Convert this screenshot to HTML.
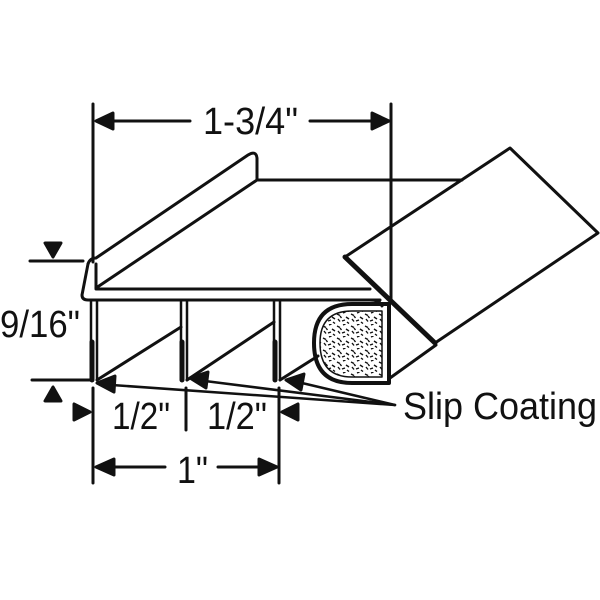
<!DOCTYPE html>
<html><head><meta charset="utf-8"><style>html,body{margin:0;padding:0;background:#fff}svg{display:block}</style></head>
<body>
<svg width="600" height="600" viewBox="0 0 600 600" xmlns="http://www.w3.org/2000/svg" font-family="Liberation Sans, Arial, sans-serif">
<defs>
<pattern id="foam" width="14" height="12" patternUnits="userSpaceOnUse">
<path d="M1,2 l3,1.5 M7,1 l2.5,-1 M10,5 l3,2 M2,7 l2,2.5 M6,9 l3,-1 M11,10 l2,1.5 M4,4 l1.5,2" stroke="#111" stroke-width="1.4"/>
</pattern>
<clipPath id="bc"><path d="M382,311 L352,311 Q320,311 320,343 Q320,377 352,377 L382,377 Z"/></clipPath>
</defs>
<g stroke="#111" stroke-width="3" fill="none" stroke-linejoin="round" stroke-linecap="round">
<line x1="93" y1="104" x2="93" y2="262"/>
<line x1="391" y1="104" x2="391" y2="300"/>
<line x1="97" y1="121" x2="190" y2="121"/>
<line x1="310" y1="121" x2="387" y2="121"/>
<path d="M96,121 L113,113 L113,129 z" fill="#111"/>
<path d="M389,121 L372,113 L372,129 z" fill="#111"/>
<line x1="258" y1="180" x2="462" y2="180"/>
<path d="M88,264 Q90,258 96,258 L248,155 Q256,150 257,158 L257,180 L96,288"/>
<path d="M96,264 L96,288"/>
<path d="M88,264 L82,295 Q82,300 88,300 L380,300"/>
<line x1="96" y1="289" x2="370" y2="289"/>
<g stroke-width="2.5">
<line x1="91" y1="300" x2="91" y2="380"/><line x1="97" y1="300" x2="97" y2="380"/>
<line x1="181" y1="300" x2="181" y2="380"/><line x1="187" y1="300" x2="187" y2="380"/>
<line x1="274" y1="300" x2="274" y2="380"/><line x1="280" y1="300" x2="280" y2="380"/>
</g>
<g stroke-width="5">
<line x1="92" y1="342" x2="92" y2="380"/><line x1="182" y1="342" x2="182" y2="380"/><line x1="275" y1="342" x2="275" y2="380"/>
</g>
<line x1="97" y1="380" x2="181" y2="327"/>
<line x1="187" y1="380" x2="274" y2="322"/>
<line x1="280" y1="380" x2="318" y2="356"/>
<rect x="320" y="311" width="62" height="66" fill="url(#foam)" stroke="none" clip-path="url(#bc)"/>
<path d="M389,304 L352,304 Q314,304 314,343 Q314,383 352,383 L389,383 Z" stroke-width="4"/>
<path d="M382,311 L352,311 Q320,311 320,343 Q320,377 352,377 L382,377 Z" stroke-width="1.5"/>
<path d="M370,300 Q380,300 382,306"/>
<path d="M345,257 L510,148 L598,233 L435,343"/>
<line x1="345" y1="257" x2="435" y2="343" stroke-width="5"/>
<line x1="390" y1="378" x2="436" y2="345"/>
<line x1="30" y1="261" x2="83" y2="261"/>
<line x1="32" y1="380" x2="90" y2="380"/>
<path d="M45,243 L61,243 L53,257 z" fill="#111"/>
<path d="M45,401 L61,401 L53,387 z" fill="#111"/>
<line x1="93" y1="388" x2="93" y2="483"/>
<line x1="186" y1="388" x2="186" y2="430"/>
<line x1="279" y1="388" x2="279" y2="483"/>
<path d="M90,412 L74,404 L74,420 z" fill="#111"/>
<path d="M282,412 L298,404 L298,420 z" fill="#111"/>
<line x1="112" y1="467" x2="165" y2="467"/>
<line x1="218" y1="467" x2="262" y2="467"/>
<path d="M96,467 L114,459 L114,475 z" fill="#111"/>
<path d="M277,467 L259,459 L259,475 z" fill="#111"/>
<g stroke-width="2.5">
<line x1="395" y1="405" x2="112" y2="385"/>
<line x1="395" y1="405" x2="205" y2="381"/>
<line x1="395" y1="405" x2="302" y2="383"/>
</g>
<path d="M97,383 L115,376 L114,392 z" fill="#111"/>
<path d="M190,378 L208,372 L206,388 z" fill="#111"/>
<path d="M286,380 L304,374 L301,390 z" fill="#111"/>
</g>
<g fill="#111" font-size="38">
<text x="203" y="134" textLength="95" lengthAdjust="spacingAndGlyphs">1-3/4"</text>
<text x="0" y="337" textLength="80" lengthAdjust="spacingAndGlyphs">9/16"</text>
<text x="112" y="429" textLength="58" lengthAdjust="spacingAndGlyphs">1/2"</text>
<text x="207" y="429" textLength="60" lengthAdjust="spacingAndGlyphs">1/2"</text>
<text x="177" y="483" textLength="31" lengthAdjust="spacingAndGlyphs">1"</text>
<text x="403" y="419" textLength="194" lengthAdjust="spacingAndGlyphs">Slip Coating</text>
</g>
</svg>
</body></html>
